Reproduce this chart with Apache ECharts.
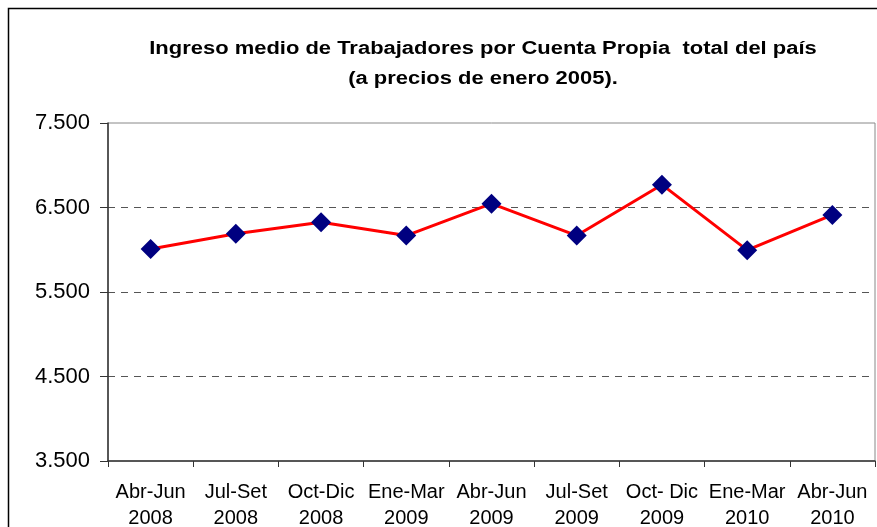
<html>
<head>
<script src="https://cdn.jsdelivr.net/npm/echarts@6/dist/echarts.min.js"></script>
<style>
  body{ margin:0; background:#fff; }
  #chart{ width:877px; height:527px; }
</style>
</head>
<body>
<div id="chart"></div>
<script>
var periodos = ['Abr-Jun\n2008', 'Jul-Set\n2008', 'Oct-Dic\n2008', 'Ene-Mar\n2009', 'Abr-Jun\n2009', 'Jul-Set\n2009', 'Oct- Dic\n2009', 'Ene-Mar\n2010', 'Abr-Jun\n2010'];
var ingreso = [6010, 6190, 6325, 6168, 6545, 6168, 6770, 5995, 6412];

var myChart = echarts.init(document.getElementById('chart'));
var option = {
  animation: false,
  textStyle: { fontFamily: 'Liberation Sans, Arial, sans-serif' },
  graphic: [
    {
      type: 'rect',
      shape: { x: 8.5, y: 8.5, width: 900, height: 560 },
      style: { fill: 'none', stroke: '#000', lineWidth: 1.5 },
      silent: true
    },
    {
      type: 'text',
      x: 483, y: 34,
      scaleX: 1.22,
      style: {
        x: 0, y: 0,
        text: 'Ingreso medio de Trabajadores por Cuenta Propia  total del país\n(a precios de enero 2005).',
        fontFamily: 'Liberation Sans, Arial, sans-serif',
        fontSize: 18, fontWeight: 'bold', fill: '#000',
        align: 'center', verticalAlign: 'top', lineHeight: 30
      }
    }
  ],
  grid: {
    left: 108, right: 2, top: 123, bottom: 66,
    outerBoundsMode: 'none',
    show: true, borderColor: '#888', borderWidth: 1
  },
  xAxis: {
    type: 'category',
    data: periodos,
    boundaryGap: true,
    axisLine: { lineStyle: { color: '#333', width: 1.5 } },
    axisTick: { show: true, length: 6, lineStyle: { color: '#333' } },
    axisLabel: { color: '#000', fontSize: 20, lineHeight: 26, margin: 18, interval: 0 },
    splitLine: { show: false }
  },
  yAxis: {
    type: 'value',
    min: 3500, max: 7500, interval: 1000,
    axisLine: { show: true, lineStyle: { color: '#333', width: 1.5 } },
    axisTick: { show: true, length: 8, lineStyle: { color: '#333' } },
    axisLabel: {
      color: '#000', fontSize: 22, margin: 18,
      formatter: function (v) { return String(v).replace(/\B(?=(\d{3})+(?!\d))/g, '.'); }
    },
    splitLine: { show: true, showMaxLine: false, showMinLine: false, lineStyle: { color: '#555', type: [7, 6], width: 1 } }
  },
  series: [
    {
      type: 'line',
      data: ingreso,
      symbol: 'diamond',
      symbolSize: 20,
      lineStyle: { color: '#ff0000', width: 3 },
      itemStyle: { color: '#000080' }
    }
  ]
};
myChart.setOption(option);
</script>
</body>
</html>
